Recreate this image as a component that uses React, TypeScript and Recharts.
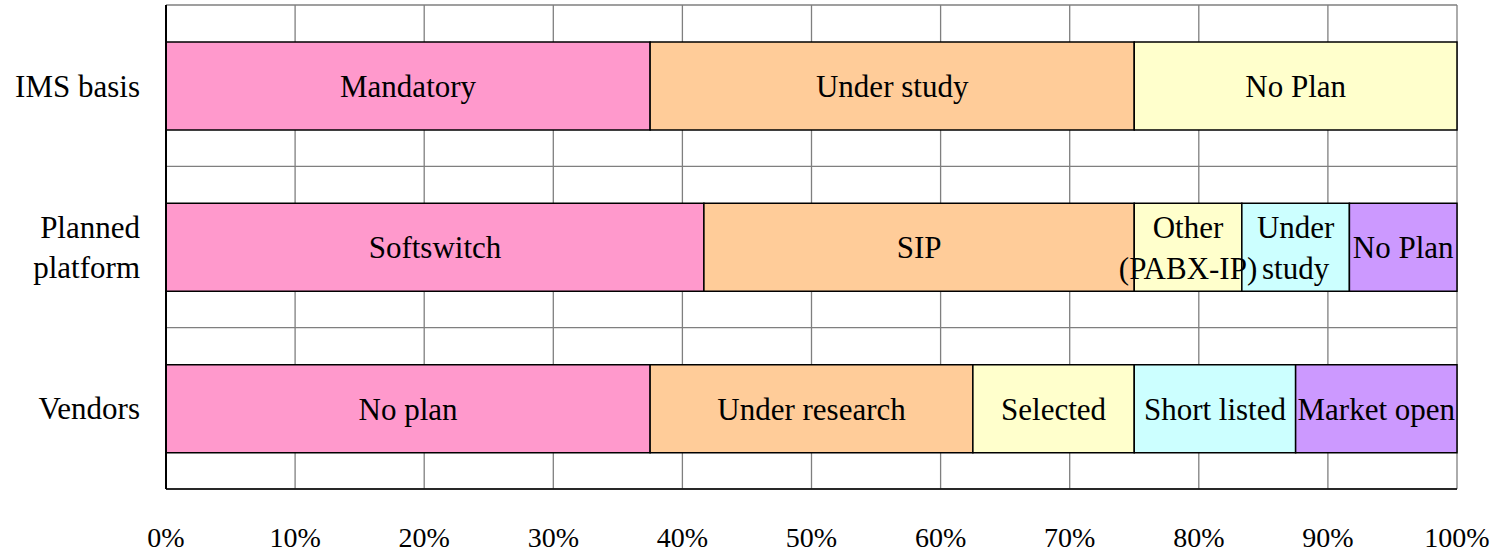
import React from 'react';
import {Bar, BarChart, CartesianGrid, LabelList, XAxis, YAxis} from 'recharts';

// survey answers, counted per row and drawn as 100% stacks
const categories = ['IMS basis', 'Planned\nplatform', 'Vendors'];

const firstValues = [3, 5, 3];
const secondValues = [3, 4, 2];
const thirdValues = [2, 1, 1];
const fourthValues = [0, 1, 1];
const fifthValues = [0, 1, 1];

const firstLabels = ['Mandatory', 'Softswitch', 'No plan'];
const secondLabels = ['Under study', 'SIP', 'Under research'];
const thirdLabels = ['No Plan', 'Other\n(PABX-IP)', 'Selected'];
const fourthLabels = ['', 'Under\nstudy', 'Short listed'];
const fifthLabels = ['', 'No Plan', 'Market open'];

const xTicks = [0, 0.1, 0.2, 0.3, 0.4, 0.5, 0.6, 0.7, 0.8, 0.9, 1];

const colors = ['#FF99CC', '#FFCC99', '#FFFFCC', '#CCFFFF', '#CC99FF'];

const FONT = "'Liberation Serif', 'Times New Roman', serif";

const data = categories.map((c, i) => ({
    category: c,
    s1: firstValues[i],
    s2: secondValues[i],
    s3: thirdValues[i],
    s4: fourthValues[i],
    s5: fifthValues[i],
    l1: firstLabels[i],
    l2: secondLabels[i],
    l3: thirdLabels[i],
    l4: fourthLabels[i],
    l5: fifthLabels[i],
}));

const BarText = (props: any) => {
    const {x, y, width, height, value} = props;
    if (!value || !width) return null;
    const lines = String(value).split('\n');
    const cx = x + width / 2;
    const cy = y + height / 2;
    const lh = 41;
    return (
        <text x={cx} textAnchor="middle" fontSize={31} fontFamily={FONT} fill="#000">
            {lines.map((ln, i) => (
                <tspan key={i} x={cx} y={cy + (i - (lines.length - 1) / 2) * lh + 11}>{ln}</tspan>
            ))}
        </text>
    );
};

const CategoryTick = (props: any) => {
    const {x, y, payload} = props;
    const lines = String(payload.value).split('\n');
    const lh = 40;
    return (
        <text x={x} textAnchor="end" fontSize={31} fontFamily={FONT} fill="#000">
            {lines.map((ln, i) => (
                <tspan key={i} x={x} y={y + (i - (lines.length - 1) / 2) * lh + 11}>{ln}</tspan>
            ))}
        </text>
    );
};

const App = () => {
    const keys = ['s1', 's2', 's3', 's4', 's5'];
    return (
        <div style={{position: 'absolute', left: 0, top: 0, background: '#fff'}}>
            <BarChart width={1499} height={552} data={data} layout="vertical" stackOffset="expand"
                      margin={{top: 5, right: 42, left: 0, bottom: 0}}>
                <CartesianGrid stroke="#7f7f7f" strokeWidth={1.3}
                               horizontalCoordinatesGenerator={({offset}: any) =>
                                   categories.concat(['']).map((_, i) => offset.top + i * offset.height / categories.length)}/>
                <XAxis type="number" domain={[0, 1]} ticks={xTicks} tickLine={false}
                       axisLine={{stroke: '#000', strokeWidth: 1.5}}
                       tickFormatter={(v: number) => `${Math.round(v * 100)}%`} height={63} tickMargin={32}
                       tick={{fontSize: 28, fontFamily: FONT, fill: '#000'}} interval={0}/>
                <YAxis type="category" dataKey="category" width={166} tickLine={false}
                       axisLine={{stroke: '#000', strokeWidth: 2}}
                       tickMargin={20} tick={<CategoryTick/>}/>
                {keys.map((k, i) => (
                    <Bar key={k} dataKey={k} stackId="a" fill={colors[i]} stroke="#000" strokeWidth={1.5}
                         barSize={88} isAnimationActive={false}>
                        <LabelList dataKey={`l${i + 1}`} content={<BarText/>}/>
                    </Bar>
                ))}
            </BarChart>
        </div>
    );
};

export default App;
